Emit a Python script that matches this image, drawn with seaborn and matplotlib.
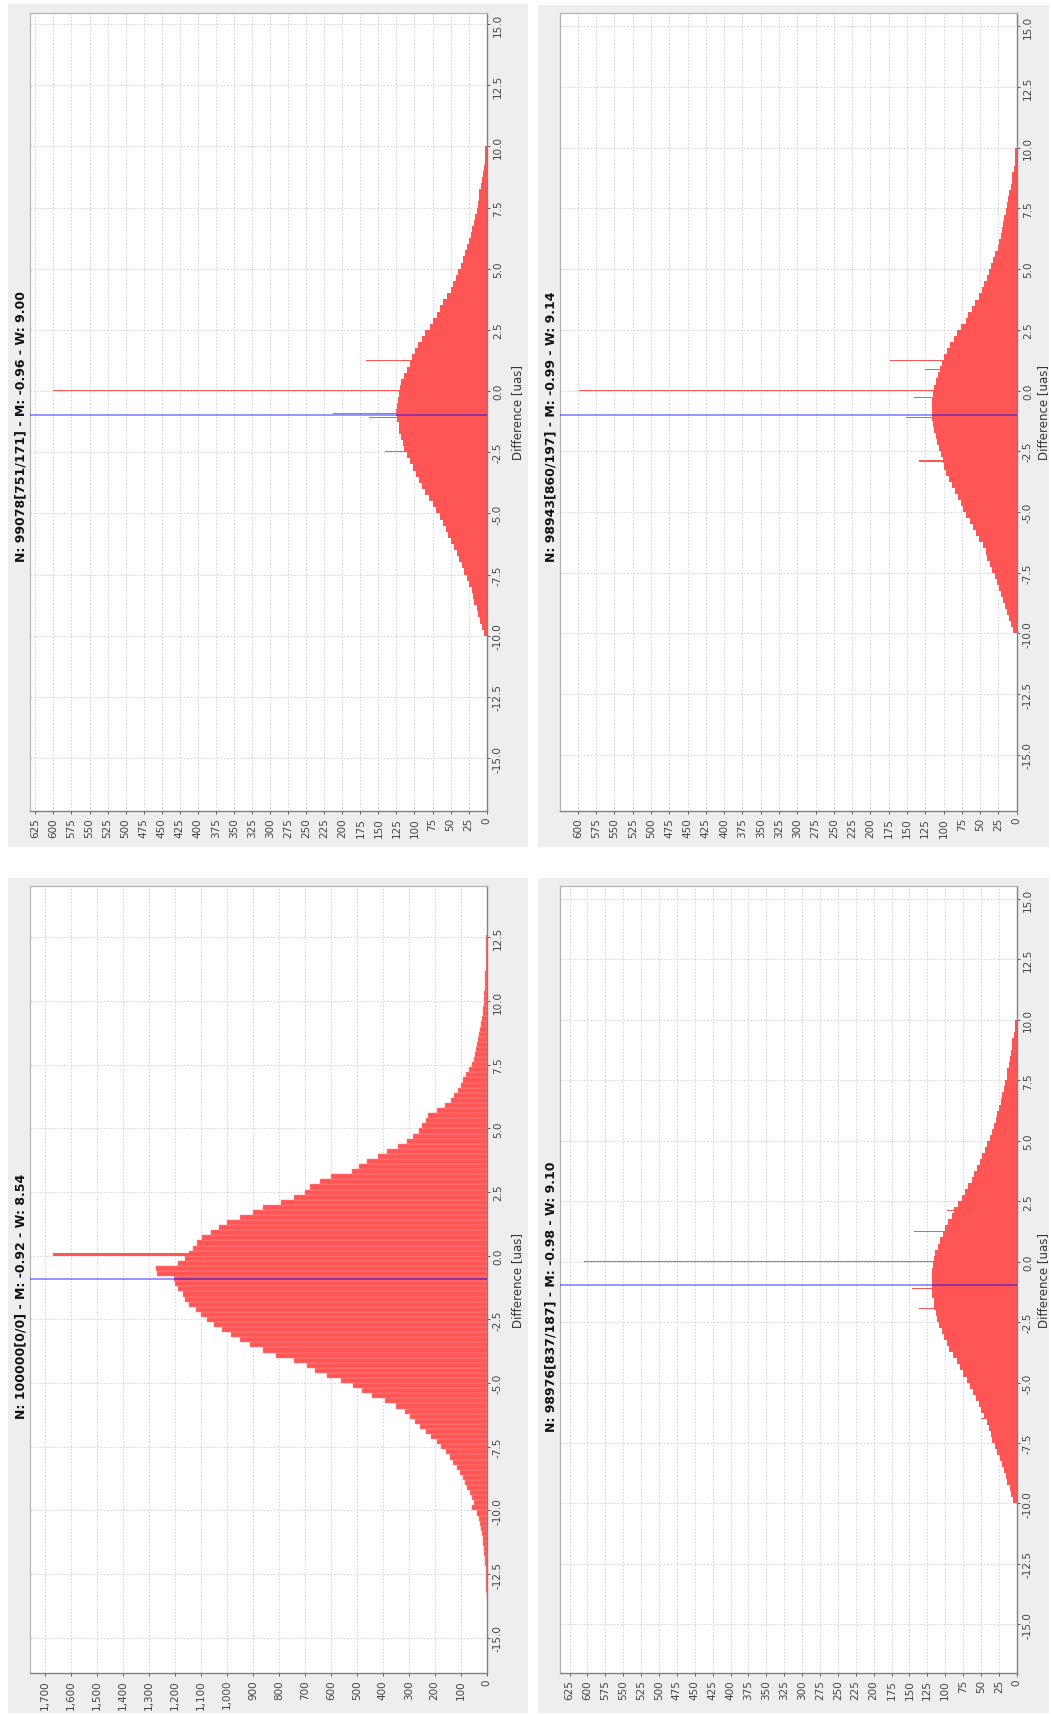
import numpy as np
import pandas as pd
import matplotlib
matplotlib.use("Agg")
import matplotlib.pyplot as plt
from matplotlib import font_manager
from matplotlib.patches import Rectangle
from matplotlib.ticker import FuncFormatter
import seaborn as sns

# ---------------- data ----------------
# Panel A (N = 100000): counts per 0.2-wide bin, centres from -13.3 to 12.5
a_counts = [0, 1, 1, 2, 3, 4, 5, 7, 9, 11,
            13, 15, 18, 21, 25, 29, 36, 55, 50, 58,
            66, 74, 82, 92, 102, 116, 130, 142, 158, 177,
            190, 215, 235, 258, 275, 295, 315, 350, 390, 440,
            480, 515, 560, 615, 660, 690, 740, 810, 860, 910,
            950, 985, 1020, 1050, 1075, 1100, 1120, 1145, 1160, 1170,
            1190, 1200, 1205, 1270, 1275, 1190, 1160,
            1145, 1130, 1115, 1095, 1060, 1030, 1000, 950, 900, 860,
            790, 740, 700, 680, 640, 600, 520, 490, 460, 420,
            385, 340, 305, 285, 260, 250, 235, 225, 190, 160,
            138, 125, 110, 100, 90, 80, 68, 55, 50, 46,
            43, 38, 33, 30, 25, 21, 18, 15, 13, 11,
            10, 9, 8, 7, 6, 5, 4, 3, 3, 2,
            2, 1, 1]
a_first_center = -13.3
a_step = 0.2
a_spike_pos = [0.05]
a_spike_h = [1670]

# Panels B, C, D: counts per 0.25-wide bin, centres from -9.875 to 9.875
b_counts = [4, 7, 9, 12, 14, 17, 19, 21, 24, 27, 31, 34, 38, 41, 45, 49, 53, 57, 61, 65,
            70, 75, 80, 85, 89, 94, 98, 102, 106, 110, 114, 116, 119, 121, 122, 124, 125, 124, 123, 122,
            120, 118, 114, 110, 106, 103, 99, 95, 90, 85, 79, 74, 69, 64, 60, 55, 50, 47, 43, 40,
            36, 33, 30, 27, 25, 22, 20, 18, 16, 14, 12, 11, 10, 8, 7, 5, 4, 3, 3, 2]
b_spike_pos = [1.25, 0.02, -0.9, -1.09, -2.47]
b_spike_h = [167, 600, 213, 163, 141]

c_counts = [5, 8, 10, 13, 16, 19, 22, 24, 27, 30, 34, 37, 40, 42, 46, 51, 55, 60, 64, 69,
            73, 76, 80, 85, 89, 92, 96, 99, 101, 104, 106, 109, 111, 113, 115, 116, 116, 116, 116, 115,
            113, 111, 108, 105, 102, 100, 95, 91, 86, 81, 76, 70, 66, 61, 57, 52, 48, 45, 41, 38,
            35, 32, 29, 26, 24, 22, 20, 19, 17, 15, 13, 12, 10, 8, 7, 6, 4, 3, 3, 2]
c_spike_pos = [1.23, 0.88, 0.02, -0.3, -1.12, -2.9]
c_spike_h = [173, 126, 598, 141, 151, 133]

d_counts = [5, 8, 10, 13, 15, 18, 21, 24, 28, 31, 34, 36, 39, 42, 46, 50, 53, 57, 61, 65,
            70, 75, 79, 84, 89, 94, 98, 102, 105, 108, 111, 113, 115, 116, 118, 119, 119, 119, 118, 117,
            116, 114, 110, 107, 103, 100, 96, 91, 87, 82, 77, 72, 68, 63, 59, 56, 52, 49, 45, 42,
            38, 35, 32, 29, 27, 25, 22, 20, 18, 16, 14, 13, 11, 10, 8, 7, 6, 4, 3, 2]
d_spike_pos = [2.13, 1.24, 0.02, -1.1, -1.93, -6.5]
d_spike_h = [97, 143, 605, 147, 136, 50]

bcd_first_center = -9.875
bcd_step = 0.25

titles = ["N: 99078[751/171] - M: -0.96 - W: 9.00",
          "N: 98943[860/197] - M: -0.99 - W: 9.14",
          "N: 100000[0/0] - M: -0.92 - W: 8.54",
          "N: 98976[837/187] - M: -0.98 - W: 9.10"]
means = [-0.96, -0.99, -0.92, -0.98]
axis_label = "Difference [uas]"

# ---------------- style ----------------
sns.set_theme(style="white")
names = {f.name for f in font_manager.fontManager.ttflist}
FONT = "Liberation Sans Narrow" if "Liberation Sans Narrow" in names else "DejaVu Sans"
plt.rcParams["font.family"] = [FONT, "DejaVu Sans"]

W, H = 1051, 1715
fig = plt.figure(figsize=(W / 100, H / 100), dpi=100)
fig.patch.set_facecolor("white")

BAR = "#FF5555"
GRID = "#CFCFCF"
TICKC = "#444444"


def frac_rect(x0, y0, x1, y1):
    return [x0 / W, 1 - y1 / H, (x1 - x0) / W, (y1 - y0) / H]


def edges_from(first, step, n):
    return [float(first - step / 2 + step * k) for k in range(n + 1)]


def spike_edges(pos, w):
    e = []
    for p in sorted(pos):
        e += [p - w / 2, p + w / 2]
    return e


panels = [
    dict(counts=b_counts, first=bcd_first_center, step=bcd_step, sp=b_spike_pos, sh=b_spike_h, sw=0.045,
         grey=(8, 5, 528, 848), box=(30.3, 14, 486.7, 811.7), xmax=632, ylim=(-17.15, 15.45),
         xt=25, xtmax=625, ytmin=-15, ytmax=15, title=titles[0], mean=means[0], lab_x=511),
    dict(counts=c_counts, first=bcd_first_center, step=bcd_step, sp=c_spike_pos, sh=c_spike_h, sw=0.045,
         grey=(538, 6, 1049, 848), box=(560.3, 14, 1016.7, 811.7), xmax=624, ylim=(-17.3, 15.55),
         xt=25, xtmax=600, ytmin=-15, ytmax=15, title=titles[1], mean=means[1], lab_x=1037),
    dict(counts=a_counts, first=a_first_center, step=a_step, sp=a_spike_pos, sh=a_spike_h, sw=0.1,
         grey=(8, 879, 528, 1714), box=(30.3, 886.7, 486.7, 1673.7), xmax=1757, ylim=(-16.37, 14.53),
         xt=100, xtmax=1700, ytmin=-15, ytmax=12.5, title=titles[2], mean=means[2], lab_x=511),
    dict(counts=d_counts, first=bcd_first_center, step=bcd_step, sp=d_spike_pos, sh=d_spike_h, sw=0.045,
         grey=(538, 879, 1049, 1714), box=(560.3, 886.7, 1016.7, 1673.7), xmax=638, ylim=(-17.0, 15.55),
         xt=25, xtmax=625, ytmin=-15, ytmax=15, title=titles[3], mean=means[3], lab_x=1037),
]

for i, p in enumerate(panels):
    gx0, gy0, gx1, gy1 = p["grey"]
    fig.patches.append(Rectangle((gx0 / W, 1 - gy1 / H), (gx1 - gx0) / W, (gy1 - gy0) / H,
                                 transform=fig.transFigure, facecolor="#EEEEEE",
                                 edgecolor="none", zorder=-10))
    ax = fig.add_axes(frac_rect(*p["box"]))
    ax.set_zorder(1)
    ax.set_facecolor("white")
    ax.set_axisbelow(True)

    n = len(p["counts"])
    main_df = pd.DataFrame({"diff": [p["first"] + p["step"] * k for k in range(n)],
                            "count": p["counts"]})
    spike_df = pd.DataFrame({"diff": p["sp"], "count": p["sh"]})
    big = p["step"] < 0.25
    sns.histplot(data=main_df, y="diff", weights="count", bins=edges_from(p["first"], p["step"], n),
                 ax=ax, color=BAR, alpha=1.0,
                 edgecolor="#FF8C8C" if big else BAR, linewidth=0.35 if big else 0.0)
    sns.histplot(data=spike_df, y="diff", weights="count", bins=spike_edges(p["sp"], p["sw"]), ax=ax,
                 color=BAR, alpha=1.0, linewidth=0)
    ax.axhline(p["mean"], color="#0000FF", alpha=0.45, lw=1.3, zorder=5)

    ax.set_xlim(p["xmax"], 0)
    ax.set_ylim(*p["ylim"])

    xt = np.arange(0, p["xtmax"] + 1, p["xt"])
    ax.set_xticks(xt)
    ax.xaxis.set_major_formatter(FuncFormatter(lambda v, pos: f"{int(round(v)):,}"))
    yt = np.arange(p["ytmin"], p["ytmax"] + 0.01, 2.5)
    ax.set_yticks(yt)
    ax.yaxis.set_major_formatter(FuncFormatter(lambda v, pos: f"{v:.1f}".replace("-0.0", "0.0")))
    ax.yaxis.tick_right()
    ax.yaxis.set_label_position("right")

    ax.tick_params(axis="x", labelrotation=90, labelsize=7.5, colors=TICKC, length=2.5, width=0.6,
                   pad=2, direction="out", bottom=True)
    ax.tick_params(axis="y", labelrotation=90, labelsize=7.5, colors=TICKC, length=2.5, width=0.6,
                   pad=2, direction="out", right=True, left=False)
    for lab in ax.get_yticklabels():
        lab.set_va("center")

    ax.grid(True, color=GRID, linestyle=(0, (2, 2)), linewidth=0.6)
    for s in ["top", "left"]:
        ax.spines[s].set_color("#B0B0B0")
        ax.spines[s].set_linewidth(0.8)
    for s in ["bottom", "right"]:
        ax.spines[s].set_color("#808080")
        ax.spines[s].set_linewidth(1.0)

    ax.set_xlabel("")
    ax.set_ylabel(axis_label, rotation=90, fontsize=8.5, color="#333333")
    bx0, by0, bx1, by1 = p["box"]
    ax.yaxis.set_label_coords((p["lab_x"] - bx0) / (bx1 - bx0), 0.5)

    fig.text((gx0 + 13) / W, 1 - ((gy0 + gy1) / 2) / H, p["title"], rotation=90,
             ha="center", va="center", fontsize=9, fontweight="bold", color="#111111")

fig.savefig("out.png", dpi=100, facecolor="white")
